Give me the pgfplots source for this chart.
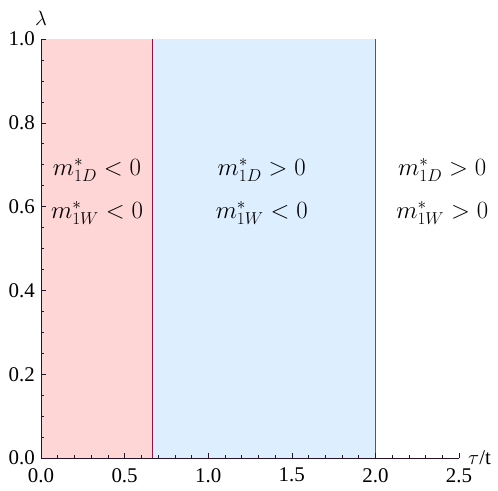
\documentclass[border=0pt]{standalone}
\usepackage{pgfplots}
\pgfplotsset{compat=1.18}
\usepackage{fontspec}
\setmainfont{Liberation Serif}
\definecolor{redfill}{RGB}{255,214,214}
\definecolor{bluefill}{RGB}{221,238,255}
\definecolor{redline}{RGB}{140,20,80}
\definecolor{blueline}{RGB}{80,80,160}
\definecolor{axiscol}{RGB}{40,20,40}
\begin{document}
\fontsize{21}{25}\selectfont
\begin{tikzpicture}
\begin{axis}[
  scale only axis, width=418bp, height=419bp,
  xmin=0, xmax=2.5, ymin=0, ymax=1,
  axis lines=left, axis line style={-, color=axiscol, line width=0.8pt},
  xtick={0,0.5,1,1.5,2,2.5}, ytick={0,0.2,0.4,0.6,0.8,1},
  xticklabels={0.0,0.5,1.0,1.5,2.0,2.5},
  yticklabels={0.0,0.2,0.4,0.6,0.8,1.0},
  minor x tick num=4, minor y tick num=3,
  tick align=inside, tick style={color=axiscol, line width=0.5pt},
  major tick length=5bp, minor tick length=3bp,
  ticklabel style={font=\fontsize{21}{25}\selectfont},
  xticklabel style={yshift=-3bp},
  yticklabel style={xshift=1bp},
  axis on top, clip=false,
]
\addplot[fill=redfill, draw=none] coordinates {(0,0) (0,1) (0.6667,1) (0.6667,0)} -- cycle;
\addplot[fill=bluefill, draw=none] coordinates {(0.6667,0) (0.6667,1) (2,1) (2,0)} -- cycle;
\addplot[redline, line width=0.8pt] coordinates {(0.6667,0) (0.6667,1)};
\addplot[blueline, line width=0.8pt] coordinates {(2,0) (2,1)};
\begin{scope}[every node/.style={font=\fontsize{23}{27}\selectfont}]
\node at (axis cs:0.335,0.687) {$m^*_{1D}<0$};
\node at (axis cs:0.335,0.585) {$m^*_{1W}<0$};
\node at (axis cs:1.32,0.687) {$m^*_{1D}>0$};
\node at (axis cs:1.32,0.585) {$m^*_{1W}<0$};
\node at (axis cs:2.4,0.687) {$m^*_{1D}>0$};
\node at (axis cs:2.4,0.585) {$m^*_{1W}>0$};
\end{scope}
\node[anchor=west, inner sep=0bp, xshift=9bp, yshift=0bp] at (axis cs:2.5,0) {$\tau$/t};
\node[anchor=south, inner sep=0bp, yshift=13bp] at (axis cs:0,1) {$\lambda$};
\path (rel axis cs:0,0) ++(-41bp,-33bp);
\path (rel axis cs:1,1) ++(39bp,39bp);
\end{axis}
\end{tikzpicture}
\end{document}
